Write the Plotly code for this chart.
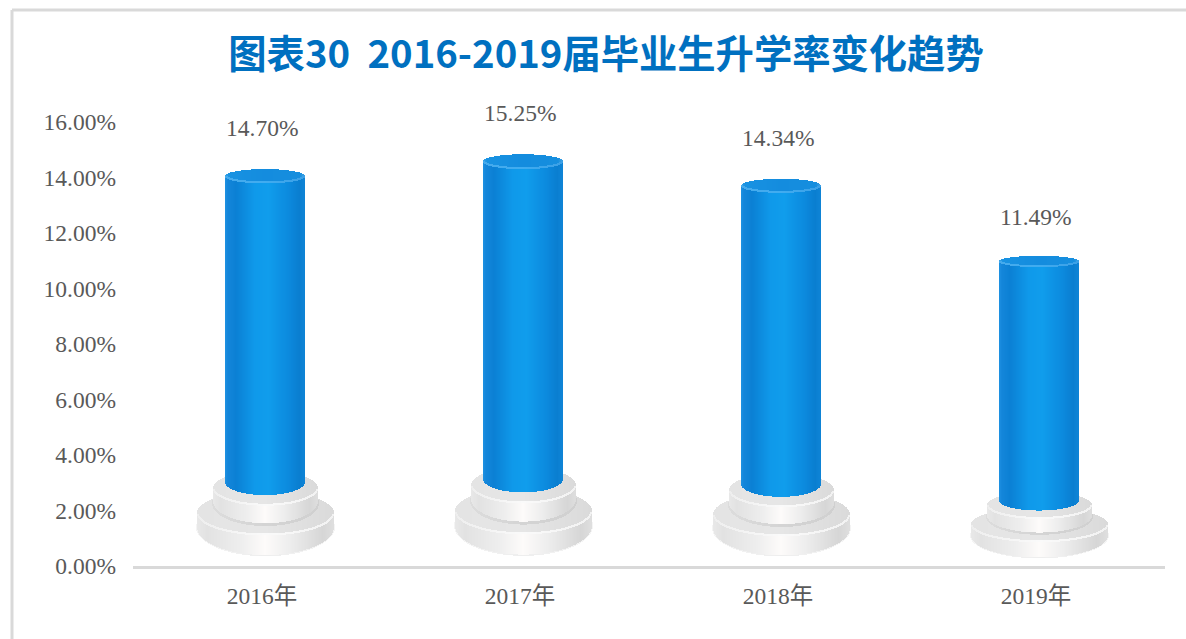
import numpy as np
import plotly.graph_objects as go

# ---- data ----
categories = ["2016年", "2017年", "2018年", "2019年"]
rates = [14.70, 15.25, 14.34, 11.49]
value_labels = ["14.70%", "15.25%", "14.34%", "11.49%"]
tick_values = [0, 2, 4, 6, 8, 10, 12, 14, 16]
tick_labels = ["0.00%", "2.00%", "4.00%", "6.00%", "8.00%", "10.00%", "12.00%", "14.00%", "16.00%"]
title_text = "图表30\u00a0\u00a02016-2019届毕业生升学率变化趋势"

# ---- page layout (px) ----
W, H = 1186, 639
L, R, T, B = 133, 21, 122, 73
slot_px = (W - L - R) / len(categories)
picture_shift = 3.5 / slot_px   # the picture bars sit slightly right of the tick
px_x = 1 / slot_px

GREY = "#595959"
FONT = "Liberation Serif, Noto Sans CJK SC, serif"


def lerp_colors(stops, u):
    xs = [s[0] for s in stops]
    return [
        "#%02x%02x%02x" % tuple(int(round(np.interp(v, xs, [s[1][c] for s in stops]))) for c in range(3))
        for v in u
    ]


BLUE_SIDE = [(-1, (30, 146, 226)), (-0.93, (20, 134, 218)), (-0.72, (11, 128, 212)), (-0.25, (15, 153, 234)),
             (0.1, (16, 157, 236)), (0.6, (12, 138, 222)), (0.88, (10, 126, 208)), (1, (14, 132, 214))]
BLUE_TOP = [(-1, (60, 165, 232)), (-0.9, (24, 146, 226)), (0, (20, 140, 222)), (0.9, (22, 142, 222)), (1, (60, 160, 228))]
BLUE_RIM = [(-1, (70, 170, 236)), (0, (64, 172, 240)), (1, (60, 160, 230))]
WHITE_SIDE = [(-1, (232, 232, 232)), (-0.85, (226, 226, 226)), (-0.35, (238, 238, 238)), (0.0, (253, 251, 250)),
              (0.35, (238, 238, 238)), (0.85, (214, 214, 214)), (1, (222, 222, 222))]
WHITE_TOP = [(-1, (228, 228, 228)), (0, (230, 230, 230)), (1, (218, 218, 218))]
RIM = [(-1, (238, 238, 238)), (0, (250, 250, 250)), (1, (242, 242, 242))]
SHADOW = [(-1, (220, 220, 220)), (0, (212, 212, 212)), (1, (208, 208, 208))]
HALO = [(-1, (244, 244, 244)), (0, (238, 238, 238)), (1, (244, 244, 244))]

bars = []


def strips(half_px, low_frac, high_frac, ry_low, ry_high, stops, mode):
    """One column of 1px bars per category; all heights scale with that category's rate.
    mode: 'side' lower front arc -> upper front arc; 'disc' upper ellipse front -> back."""
    xs, bases, heights, colors = [], [], [], []
    n = int(half_px * 2)
    u = (np.arange(n) + 0.5) / n * 2 - 1
    col = lerp_colors(stops, u)
    arc = np.sqrt(1 - u ** 2)
    for i, v in enumerate(rates):
        x = i + picture_shift + u * half_px * px_x
        if mode == "side":
            y0 = (low_frac - ry_low * arc) * v
            y1 = (high_frac - ry_high * arc) * v
        else:
            y0 = (high_frac - ry_high * arc) * v
            y1 = (high_frac + ry_high * arc) * v
        xs.extend(x)
        bases.extend(y0)
        heights.extend(y1 - y0)
        colors.extend(col)
    bars.append(go.Bar(x=xs, y=heights, base=bases, width=px_x * 1.02,
                       marker=dict(color=colors, line=dict(width=0)),
                       hoverinfo="skip", showlegend=False))


# faint halo under the base
strips(69, 0.0956, 0.0956, 0.0715, 0.0715, HALO, "disc")
# lower disc
strips(68, 0.0956, 0.130, 0.0686, 0.054, WHITE_SIDE, "side")
strips(68, 0.130, 0.130, 0.054, 0.054, WHITE_TOP, "disc")
strips(68, 0.130, 0.1335, 0.054, 0.054, RIM, "side")
# contact shadow of the upper disc
strips(53, 0.154, 0.154, 0.056, 0.056, SHADOW, "disc")
# upper disc
strips(52, 0.159, 0.191, 0.054, 0.042, WHITE_SIDE, "side")
strips(52, 0.191, 0.191, 0.042, 0.042, WHITE_TOP, "disc")
strips(52, 0.191, 0.1945, 0.042, 0.042, RIM, "side")
# cylinder
strips(39.5, 0.206, 0.956, 0.032, 0.017, BLUE_SIDE, "side")
strips(39.5, 0.956, 0.956, 0.017, 0.017, BLUE_TOP, "disc")
strips(39.5, 0.956, 0.9585, 0.017, 0.017, BLUE_RIM, "side")

fig = go.Figure(bars)

fig.add_trace(go.Scatter(x=list(range(len(categories))), y=rates, mode="markers",
                         marker=dict(opacity=0), hoverinfo="skip", showlegend=False))

for i, (v, txt) in enumerate(zip(rates, value_labels)):
    fig.add_annotation(x=i, y=v, text=txt, showarrow=False, yshift=30, yanchor="middle", xanchor="center",
                       font=dict(family=FONT, size=23.5, color=GREY))

plot_w, plot_h = W - L - R, H - T - B
FRAME = "#D9D9D9"
fig.add_shape(type="line", xref="paper", yref="paper", x0=(12 - L) / plot_w, x1=(W - L) / plot_w,
              y0=(H - B - 10) / plot_h, y1=(H - B - 10) / plot_h, line=dict(color=FRAME, width=3), layer="below")
fig.add_shape(type="line", xref="paper", yref="paper", x0=(12 - L) / plot_w, x1=(12 - L) / plot_w,
              y0=(H - B - 10) / plot_h, y1=-B / plot_h, line=dict(color=FRAME, width=3), layer="below")

fig.update_layout(
    width=W, height=H, autosize=False,
    margin=dict(l=L, r=R, t=T, b=B, pad=0),
    paper_bgcolor="white", plot_bgcolor="white",
    barmode="overlay", bargap=0,
    showlegend=False,
    title=dict(text=title_text, x=606 / W, y=1 - 55 / H, xref="container", yref="container",
               xanchor="center", yanchor="middle",
               font=dict(family="Noto Sans CJK SC, sans-serif", size=38.3, color="#0070C0", weight="bold")),
    xaxis=dict(type="linear", range=[-0.5, 3.5], tickmode="array", tickvals=list(range(len(categories))),
               ticktext=categories, showgrid=False, zeroline=False, showline=True, linecolor="#D9D9D9", linewidth=3,
               ticks="", ticklabelstandoff=7, tickfont=dict(family=FONT, size=23.5, color=GREY)),
    yaxis=dict(range=[0, 16], tickmode="array", tickvals=tick_values, ticktext=tick_labels,
               showgrid=False, zeroline=False, showline=False, ticks="", ticklabelstandoff=16,
               tickfont=dict(family=FONT, size=23.5, color=GREY)),
)

fig.write_html("out.html", config=dict(displayModeBar=False),
               post_script="document.body.style.margin='0';")
